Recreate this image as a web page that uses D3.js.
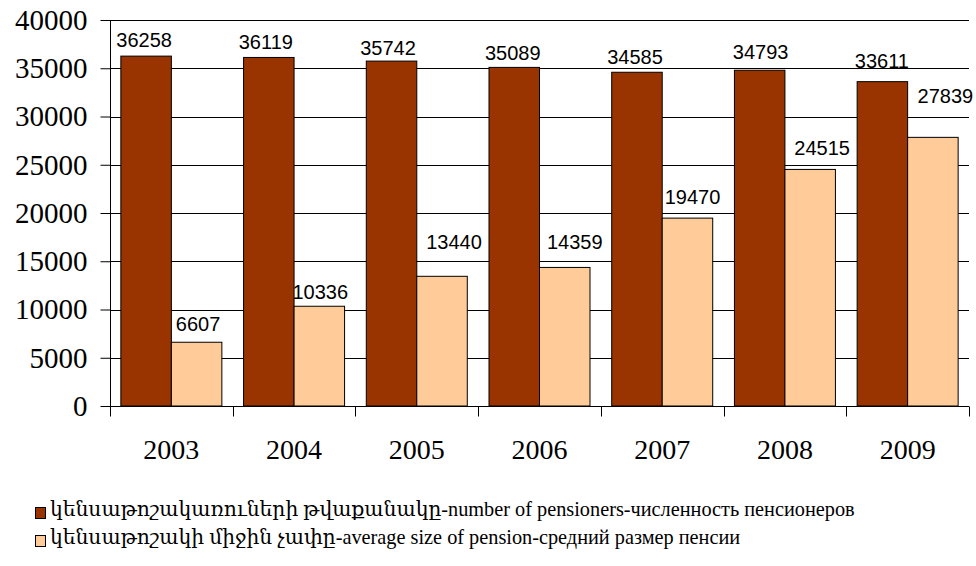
<!DOCTYPE html>
<html>
<head>
<meta charset="utf-8">
<script src="https://cdn.jsdelivr.net/npm/d3@7/dist/d3.min.js"></script>
<style>
  html, body { margin: 0; padding: 0; background: #fff; }
  svg { display: block; }
</style>
</head>
<body>
<svg id="chart" width="976" height="566"></svg>
<script>
// ---- data ----
const years = ["2003", "2004", "2005", "2006", "2007", "2008", "2009"];
const pensioners = [36258, 36119, 35742, 35089, 34585, 34793, 33611];
const avgPension = [6607, 10336, 13440, 14359, 19470, 24515, 27839];
const seriesNames = [
  "կենսաթոշակառուների թվաքանակը-number of pensioners-численность пенсионеров",
  "կենսաթոշակի միջին չափը-average size of pension-средний размер пенсии"
];
const yTicks = [0, 5000, 10000, 15000, 20000, 25000, 30000, 35000, 40000];

// ---- layout / style (not data) ----
const colors = ["#993300", "#FFCC99"];
const plot = { left: 110, right: 969, top: 20, bottom: 406 };
// label lift above bar top and horizontal shift, per series per category (as in the original)
const labelLift = [
  [9.5, 8.4, 6.4, 7.7, 8, 11, 13.4],
  [11.3, 7, 27.7, 18, 14, 14.3, 34.4]
];
const labelShift = [
  [-2, -3, -3.5, -1.5, -2, 1, -0.5],
  [1.5, 1, 12, 10, 5, 12, 12.5]
];

const svg = d3.select("#chart");

const x0 = d3.scaleBand().domain(years).range([plot.left, plot.right]).padding(0);
const x1 = d3.scaleBand().domain([0, 1]).range([0, x0.bandwidth()]).paddingInner(0).paddingOuter(0.215);
const y = d3.scaleLinear().domain([0, 40000]).range([plot.bottom, plot.top]);

// gridlines
svg.append("g")
  .selectAll("line")
  .data(yTicks.filter(d => d > 0))
  .join("line")
  .attr("x1", plot.left).attr("x2", plot.right)
  .attr("y1", d => Math.round(y(d)) + 0.5).attr("y2", d => Math.round(y(d)) + 0.5)
  .attr("stroke", "#000").attr("stroke-width", 1);

// bars
const series = [pensioners, avgPension];
series.forEach((vals, s) => {
  svg.append("g")
    .selectAll("rect")
    .data(vals)
    .join("rect")
    .attr("x", (d, i) => x0(years[i]) + x1(s))
    .attr("y", d => y(d))
    .attr("width", x1.bandwidth())
    .attr("height", d => y(0) - y(d))
    .attr("fill", colors[s])
    .attr("stroke", "#000")
    .attr("stroke-width", 1);
});

// value labels
series.forEach((vals, s) => {
  svg.append("g")
    .selectAll("text")
    .data(vals)
    .join("text")
    .attr("x", (d, i) => x0(years[i]) + x1(s) + x1.bandwidth() / 2 + labelShift[s][i])
    .attr("y", (d, i) => y(d) - labelLift[s][i])
    .attr("text-anchor", "middle")
    .attr("font-family", "'Liberation Sans', Arial, sans-serif")
    .attr("font-size", 20)
    .attr("fill", "#000")
    .text(d => d);
});

// y axis
const yAxis = d3.axisLeft(y).tickValues(yTicks).tickSize(10).tickPadding(13).tickFormat(d3.format("d"));
const gy = svg.append("g").attr("transform", `translate(${plot.left + 0.5},0)`).call(yAxis);
gy.select(".domain").attr("stroke", "#000").attr("d", `M0,${plot.top}V${plot.bottom + 10}`);
gy.selectAll(".tick line").attr("stroke", "#000");
gy.selectAll(".tick text")
  .attr("font-family", "'Liberation Serif', 'Times New Roman', serif")
  .attr("font-size", 29)
  .attr("fill", "#000");

// x axis: ticks at category boundaries
const gx = svg.append("g").attr("transform", `translate(0,${plot.bottom + 0.5})`);
gx.append("line")
  .attr("x1", plot.left).attr("x2", plot.right)
  .attr("stroke", "#000");
gx.selectAll("line.tk")
  .data(years.concat(["end"]))
  .join("line")
  .attr("class", "tk")
  .attr("x1", (d, i) => Math.round(plot.left + i * x0.step()) + 0.5)
  .attr("x2", (d, i) => Math.round(plot.left + i * x0.step()) + 0.5)
  .attr("y1", 0).attr("y2", 10)
  .attr("stroke", "#000");
gx.selectAll("text")
  .data(years)
  .join("text")
  .attr("x", d => x0(d) + x0.bandwidth() / 2)
  .attr("y", 52.5)
  .attr("text-anchor", "middle")
  .attr("font-family", "'Liberation Serif', 'Times New Roman', serif")
  .attr("font-size", 28)
  .attr("fill", "#000")
  .text(d => d);

// legend
const legend = svg.append("g");
seriesNames.forEach((name, s) => {
  const ly = 516 + s * 28;
  legend.append("rect")
    .attr("x", 35.5).attr("y", ly - 8.5)
    .attr("width", 10).attr("height", 11)
    .attr("fill", colors[s]).attr("stroke", "#000").attr("stroke-width", 1);
  legend.append("text")
    .attr("x", 50).attr("y", ly)
    .attr("font-family", "'Liberation Serif', 'DejaVu Serif', 'Times New Roman', serif")
    .attr("font-size", 20.3)
    .attr("fill", "#000")
    .text(name);
});
</script>
</body>
</html>
